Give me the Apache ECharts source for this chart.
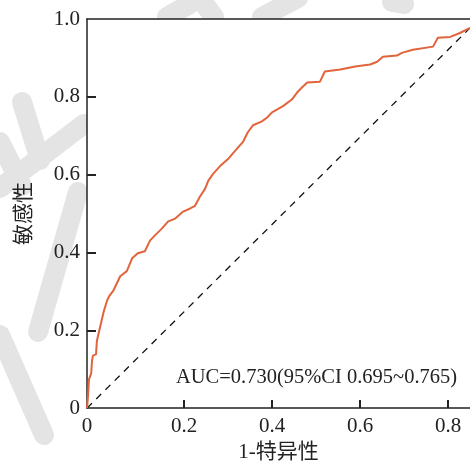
<!DOCTYPE html>
<html lang="zh">

<head>
    <meta charset="UTF-8">
    <title>ROC</title>
    <style>
        html, body { margin: 0; padding: 0; background: #fff; }
        .div { width: 470px; height: 468px; }
    </style>
</head>

<body>
    <div class="div"></div>
    <script src="https://cdn.jsdelivr.net/npm/echarts@6/dist/echarts.min.js"></script>
    <script>
        // ROC 曲线数据 (1-特异性, 敏感性)
        var fpr = [-0.0205, -0.018, -0.016, -0.011, -0.009, -0.007, 0.000, 0.002, 0.009, 0.018, 0.025, 0.030,
            0.039, 0.055, 0.070, 0.082, 0.095, 0.111, 0.123, 0.134, 0.150, 0.164, 0.180, 0.198, 0.214, 0.225,
            0.236, 0.248, 0.255, 0.266, 0.282, 0.300, 0.316, 0.334, 0.345, 0.357, 0.377, 0.389, 0.400, 0.425,
            0.445, 0.457, 0.468, 0.480, 0.509, 0.520, 0.555, 0.589, 0.623, 0.639, 0.652, 0.684, 0.695, 0.720,
            0.766, 0.777, 0.805, 0.827, 0.850]
        var tpr = [0, 0.033, 0.074, 0.089, 0.122, 0.135, 0.138, 0.173, 0.207, 0.250, 0.276, 0.288,
            0.301, 0.339, 0.352, 0.385, 0.398, 0.403, 0.431, 0.444, 0.462, 0.480, 0.487, 0.505, 0.513, 0.520,
            0.543, 0.564, 0.584, 0.602, 0.622, 0.640, 0.661, 0.684, 0.709, 0.727, 0.737, 0.747, 0.760, 0.776,
            0.793, 0.811, 0.824, 0.837, 0.839, 0.865, 0.870, 0.878, 0.883, 0.890, 0.903, 0.906, 0.913, 0.921,
            0.929, 0.952, 0.954, 0.964, 0.977]
        // 参考线
        var refX = [-0.0205, 0.850]
        var refY = [0, 0.977]
        // 刻度
        var xMin = -0.0205, xMax = 0.85
        var xTickValues = [0.2, 0.4, 0.6, 0.8]
        var xLabelValues = [xMin, 0.2, 0.4, 0.6, 0.8]
        var yTickValues = [0.2, 0.4, 0.6, 0.8]
        var aucText = 'AUC=0.730(95%CI 0.695~0.765)'

        var serif = '"Liberation Serif", "Noto Sans CJK SC", serif'
        var axisColor = '#222'

        var rocData = fpr.map(function (x, i) { return [x, tpr[i]] })
        var refData = refX.map(function (x, i) { return [x, refY[i]] })

        var myecharts = echarts.init(document.getElementsByClassName('div')[0]);

        // 背景水印 (浅灰笔画)
        var wm = [
            [[167, 17], [200, -2]], [[200, -2], [214, 17]], [[262, 17], [298, -2]], [[392, 2], [404, 4]],
            [[22, 102], [40, 160]], [[84, 124], [0, 188]], [[78, 192], [38, 332]],
            [[0, 335], [44, 435]], [[0, 142], [22, 186]]
        ]
        var graphics = wm.map(function (s) {
            return {
                type: 'polyline', z: -10, silent: true,
                shape: { points: s },
                style: { stroke: '#e4e4e4', lineWidth: 20, lineCap: 'round' }
            }
        })
        graphics.push({
            type: 'text', left: 176, top: 367,
            style: { text: aucText, font: '20.5px ' + serif, fill: '#222' }
        })

        var option = {
            animation: false,
            backgroundColor: 'transparent',
            graphic: graphics,
            grid: { left: 87, right: 0, top: 19, bottom: 57, show: true, backgroundColor: '#fff', borderWidth: 0, z: -5 },
            xAxis: [
                {
                    type: 'value', min: xMin, max: xMax,
                    name: '1-特异性', nameLocation: 'middle', nameGap: 32,
                    nameTextStyle: { fontFamily: serif, fontSize: 21, color: '#222' },
                    splitLine: { show: false },
                    axisLine: { onZero: false, lineStyle: { color: axisColor, width: 1.5 } },
                    axisTick: { inside: true, length: 8, customValues: xTickValues, lineStyle: { color: axisColor, width: 2 } },
                    axisLabel: {
                        customValues: xLabelValues, margin: 8,
                        fontFamily: serif, fontSize: 21, color: '#222',
                        formatter: function (v) { return v < 0.1 ? '0' : v.toFixed(1) }
                    }
                },
                {
                    type: 'value', position: 'top', min: xMin, max: xMax,
                    splitLine: { show: false },
                    axisLine: { show: true, onZero: false, lineStyle: { color: axisColor, width: 1.5 } },
                    axisTick: { show: false }, axisLabel: { show: false }
                }
            ],
            yAxis: {
                type: 'value', min: 0, max: 1, interval: 0.2,
                name: '敏感性', nameLocation: 'middle', nameGap: 52,
                nameTextStyle: { fontFamily: serif, fontSize: 21, color: '#222' },
                splitLine: { show: false },
                axisLine: { show: true, onZero: false, lineStyle: { color: axisColor, width: 1.5 } },
                axisTick: { inside: true, length: 9, customValues: yTickValues, lineStyle: { color: axisColor, width: 2 } },
                axisLabel: {
                    margin: 7, fontFamily: serif, fontSize: 21, color: '#222',
                    formatter: function (v) { return v === 0 ? '0' : v.toFixed(1) }
                }
            },
            series: [
                {
                    type: 'line', data: refData, symbol: 'none',
                    lineStyle: { color: '#111', width: 1.3, type: [7, 6] }
                },
                {
                    type: 'line', data: rocData, symbol: 'none',
                    lineStyle: { color: '#e2643c', width: 2 }
                }
            ]
        }
        myecharts.setOption(option);
        window.onresize = myecharts.resize
    </script>
</body>

</html>
